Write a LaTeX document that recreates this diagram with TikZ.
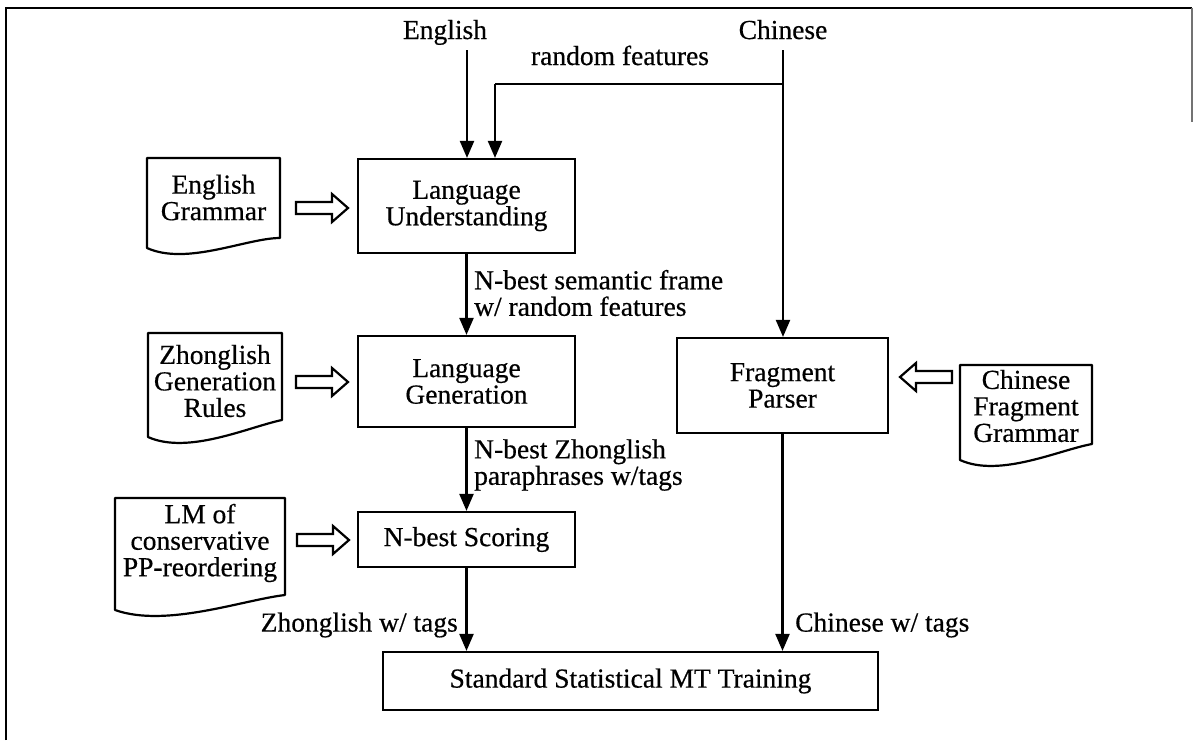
\documentclass[tikz,border=0pt]{standalone}
\usepackage{fontspec}
\setmainfont{Liberation Serif}[FakeBold=0.5]
\usetikzlibrary{arrows.meta,calc}
\newcommand\docshape[5]{% x1,y1,x2,y2,lift
  \draw[docline] (#1,#2) -- (#3,#2) -- (#3,{#4-#5})
    .. controls ({#1+0.75*(#3-#1)},{#4-10}) and ({#1+0.3*(#3-#1)},{#4+18}) .. (#1,#4) -- cycle;}
\begin{document}
\begin{tikzpicture}[x=1pt,y=-1pt,
  font=\fontsize{27.5}{26.5}\selectfont,
  box/.style={draw, line width=2.2pt, align=center, inner sep=0pt},
  txt/.style={align=center, inner sep=0pt},
  lbl/.style={align=left, inner sep=0pt},
  docline/.style={line width=2.2pt, line join=round},
  conn/.style={line width=2.2pt, -{Triangle[width=14pt,length=17pt]}},
  plainline/.style={line width=2.2pt},
  hollowR/.pic={\draw[line width=2.2pt, line join=miter, fill=white]
     (-26,-6) -- (10,-6) -- (10,-14) -- (26,0) -- (10,14) -- (10,6) -- (-26,6) -- cycle;}
]
\useasboundingbox (0,0) rectangle (1195,740);
% frame
\draw[line width=2.2pt] (6,740) -- (6,8) -- (1192,8);
\draw[line width=1.4pt, black!55] (1192,8) -- (1192,122);

% inputs
\node[txt, anchor=base] (en) at (445,39) {English};
\node[txt, anchor=base] (cn) at (783,39) {Chinese};
\node[txt, anchor=base] (rf) at (620,65) {random features};

% process boxes
\node[box, minimum width=217pt, minimum height=94pt] (lu) at (466.5,206) {Language\\Understanding};
\node[box, minimum width=217pt, minimum height=91pt] (lg) at (466.5,381.5) {Language\\Generation};
\node[box, minimum width=211pt, minimum height=95pt] (fp) at (782.5,385.5) {Fragment\\Parser};
\node[box, minimum width=217pt, minimum height=55pt] (nb) at (466.5,539.5) {N-best Scoring};
\node[box, minimum width=495pt, minimum height=58pt] (smt) at (630.5,681) {Standard Statistical MT Training};

% documents
\docshape{147}{158}{280}{248}{10}
\node[txt] (eg) at (213.5,197.5) {English\\Grammar};
\docshape{148}{333}{282}{437}{17}
\node[txt] (zgr) at (215,381) {Zhonglish\\Generation\\Rules};
\docshape{115}{498}{285}{610}{15}
\node[txt] (lm) at (200,543) {LM of\\conservative\\PP-reordering};
\docshape{960}{365}{1092}{460}{16}
\node[txt] (cfg) at (1026,406) {Chinese\\Fragment\\Grammar};

% block arrows
\pic at (322,208) {hollowR};
\pic at (322,382) {hollowR};
\pic at (323,540) {hollowR};
\pic[xscale=-1] at (926,377) {hollowR};

% connectors
\coordinate (ea) at (467,50);
\coordinate (ca) at (783,50);
\coordinate (rfr) at (783,84);
\coordinate (rfl) at (495,84);
\draw[conn] (ea) -- (ea |- lu.north);
\draw[conn] (ca) -- (ca |- fp.north);
\draw[plainline] (rfr) -- (rfl);
\draw[conn] (rfl) -- (rfl |- lu.north);
\draw[conn] (lu.south) -- (lg.north);
\draw[conn] (lg.south) -- (nb.north);
\draw[conn] (nb.south) -- (nb.south |- smt.north);
\draw[conn] (fp.south) -- (fp.south |- smt.north);

% labels
\node[lbl, anchor=west] (l1) at (474,293) {N-best semantic frame\\w/ random features};
\node[lbl, anchor=west] (l2) at (474,465) {N-best Zhonglish\\paraphrases w/tags};
\node[lbl, anchor=east] (l3) at (458,625) {Zhonglish w/ tags};
\node[lbl, anchor=west] (l4) at (795,625) {Chinese w/ tags};
\end{tikzpicture}
\end{document}
